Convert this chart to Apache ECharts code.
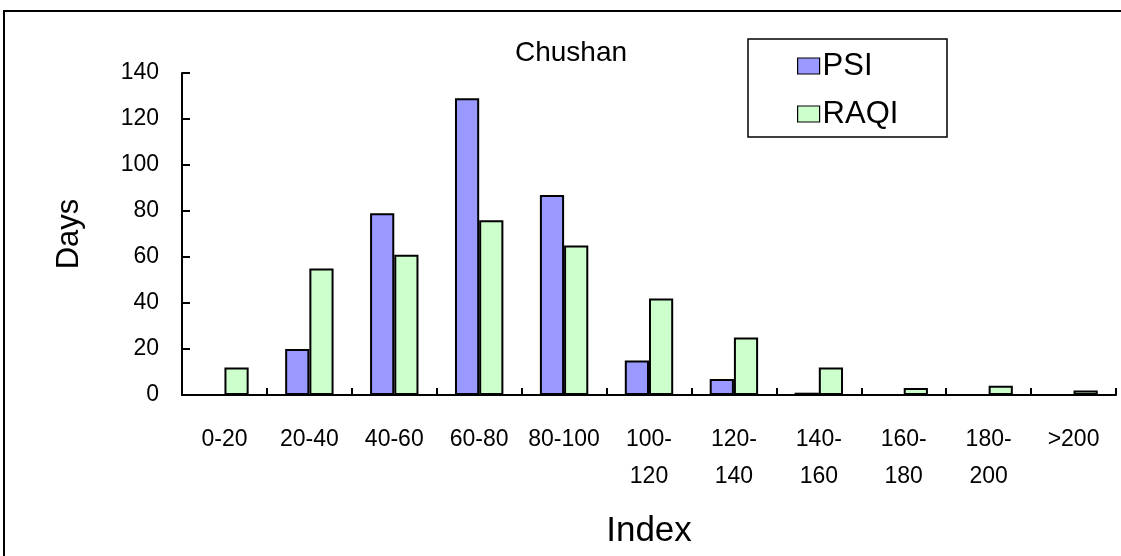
<!DOCTYPE html>
<html>
<head>
<meta charset="utf-8">
<script src="https://cdn.jsdelivr.net/npm/echarts@6/dist/echarts.min.js"></script>
<style>
  html, body { margin: 0; padding: 0; background: #ffffff; }
  #chart { width: 1121px; height: 556px; }
</style>
</head>
<body>
<div id="chart"></div>
<script>
// Index ranges (x categories)
const categories = ['0-20', '20-40', '40-60', '60-80', '80-100', '100-\n120', '120-\n140', '140-\n160', '160-\n180', '180-\n200', '>200'];
// Number of days in each index range
const psiDays  = [0, 20, 79, 129, 87, 15, 7, 1, 0, 0, 0];
const raqiDays = [12, 55, 61, 76, 65, 42, 25, 12, 3, 4, 2];
// Value axis ticks
const yTicks = [0, 20, 40, 60, 80, 100, 120, 140];

const FONT = '"Liberation Sans", Arial, sans-serif';
const chart = echarts.init(document.getElementById('chart'), null, { renderer: 'canvas' });

chart.setOption({
  backgroundColor: '#ffffff',
  animation: false,
  grid: { left: 182, right: 5, top: 73, bottom: 161, containLabel: false },
  graphic: [
    // outer frame (runs past the right and bottom edges)
    { type: 'rect', shape: { x: 4, y: 11, width: 1200, height: 600 },
      style: { fill: 'none', stroke: '#000', lineWidth: 2 }, z: 0 },
    // legend frame
    { type: 'rect', shape: { x: 748, y: 39, width: 199, height: 98 },
      style: { fill: '#fff', stroke: '#000', lineWidth: 1.5 }, z: 1 },
    // chart title
    { type: 'text', x: 571, y: 53,
      style: { text: 'Chushan', font: '28px ' + FONT, fill: '#000', textAlign: 'center', textVerticalAlign: 'middle' }, z: 5 }
  ],
  legend: {
    orient: 'vertical', left: 797, top: 48, padding: 0, itemWidth: 22, itemHeight: 16, itemGap: 12,
    icon: 'rect',
    textStyle: { fontFamily: FONT, fontSize: 31, color: '#000', lineHeight: 36, padding: [0, 0, 0, -2] },
    itemStyle: { borderColor: '#000', borderWidth: 1.2 },
    z: 10
  },
  xAxis: {
    type: 'category', data: categories, boundaryGap: true,
    name: 'Index', nameLocation: 'middle', nameGap: 119,
    nameTextStyle: { fontFamily: FONT, fontSize: 35, color: '#000' },
    axisLine: { lineStyle: { color: '#000', width: 2 } },
    axisTick: { show: true, inside: true, length: 7, alignWithLabel: false, lineStyle: { color: '#000', width: 2 } },
    axisLabel: { fontFamily: FONT, fontSize: 23, color: '#000', margin: 26, lineHeight: 37, interval: 0 },
    splitLine: { show: false }
  },
  yAxis: {
    type: 'value', min: 0, max: 140, interval: 20,
    name: 'Days', nameLocation: 'middle', nameGap: 97,
    nameTextStyle: { fontFamily: FONT, fontSize: 31, color: '#000' },
    axisLine: { show: true, lineStyle: { color: '#000', width: 2 } },
    axisTick: { show: true, inside: true, length: 8, lineStyle: { color: '#000', width: 2 } },
    axisLabel: {
      fontFamily: FONT, fontSize: 23, color: '#000', margin: 23,
      formatter: function (v) { return yTicks.indexOf(v) >= 0 ? String(v) : ''; }
    },
    splitLine: { show: false }
  },
  series: [
    { name: 'PSI', type: 'bar', data: psiDays, barGap: '0%', barCategoryGap: '43%',
      itemStyle: { color: '#9999FF', borderColor: '#000', borderWidth: 2 } },
    { name: 'RAQI', type: 'bar', data: raqiDays, barGap: '0%', barCategoryGap: '43%',
      itemStyle: { color: '#CCFFCC', borderColor: '#000', borderWidth: 2 } }
  ]
});
</script>
</body>
</html>
